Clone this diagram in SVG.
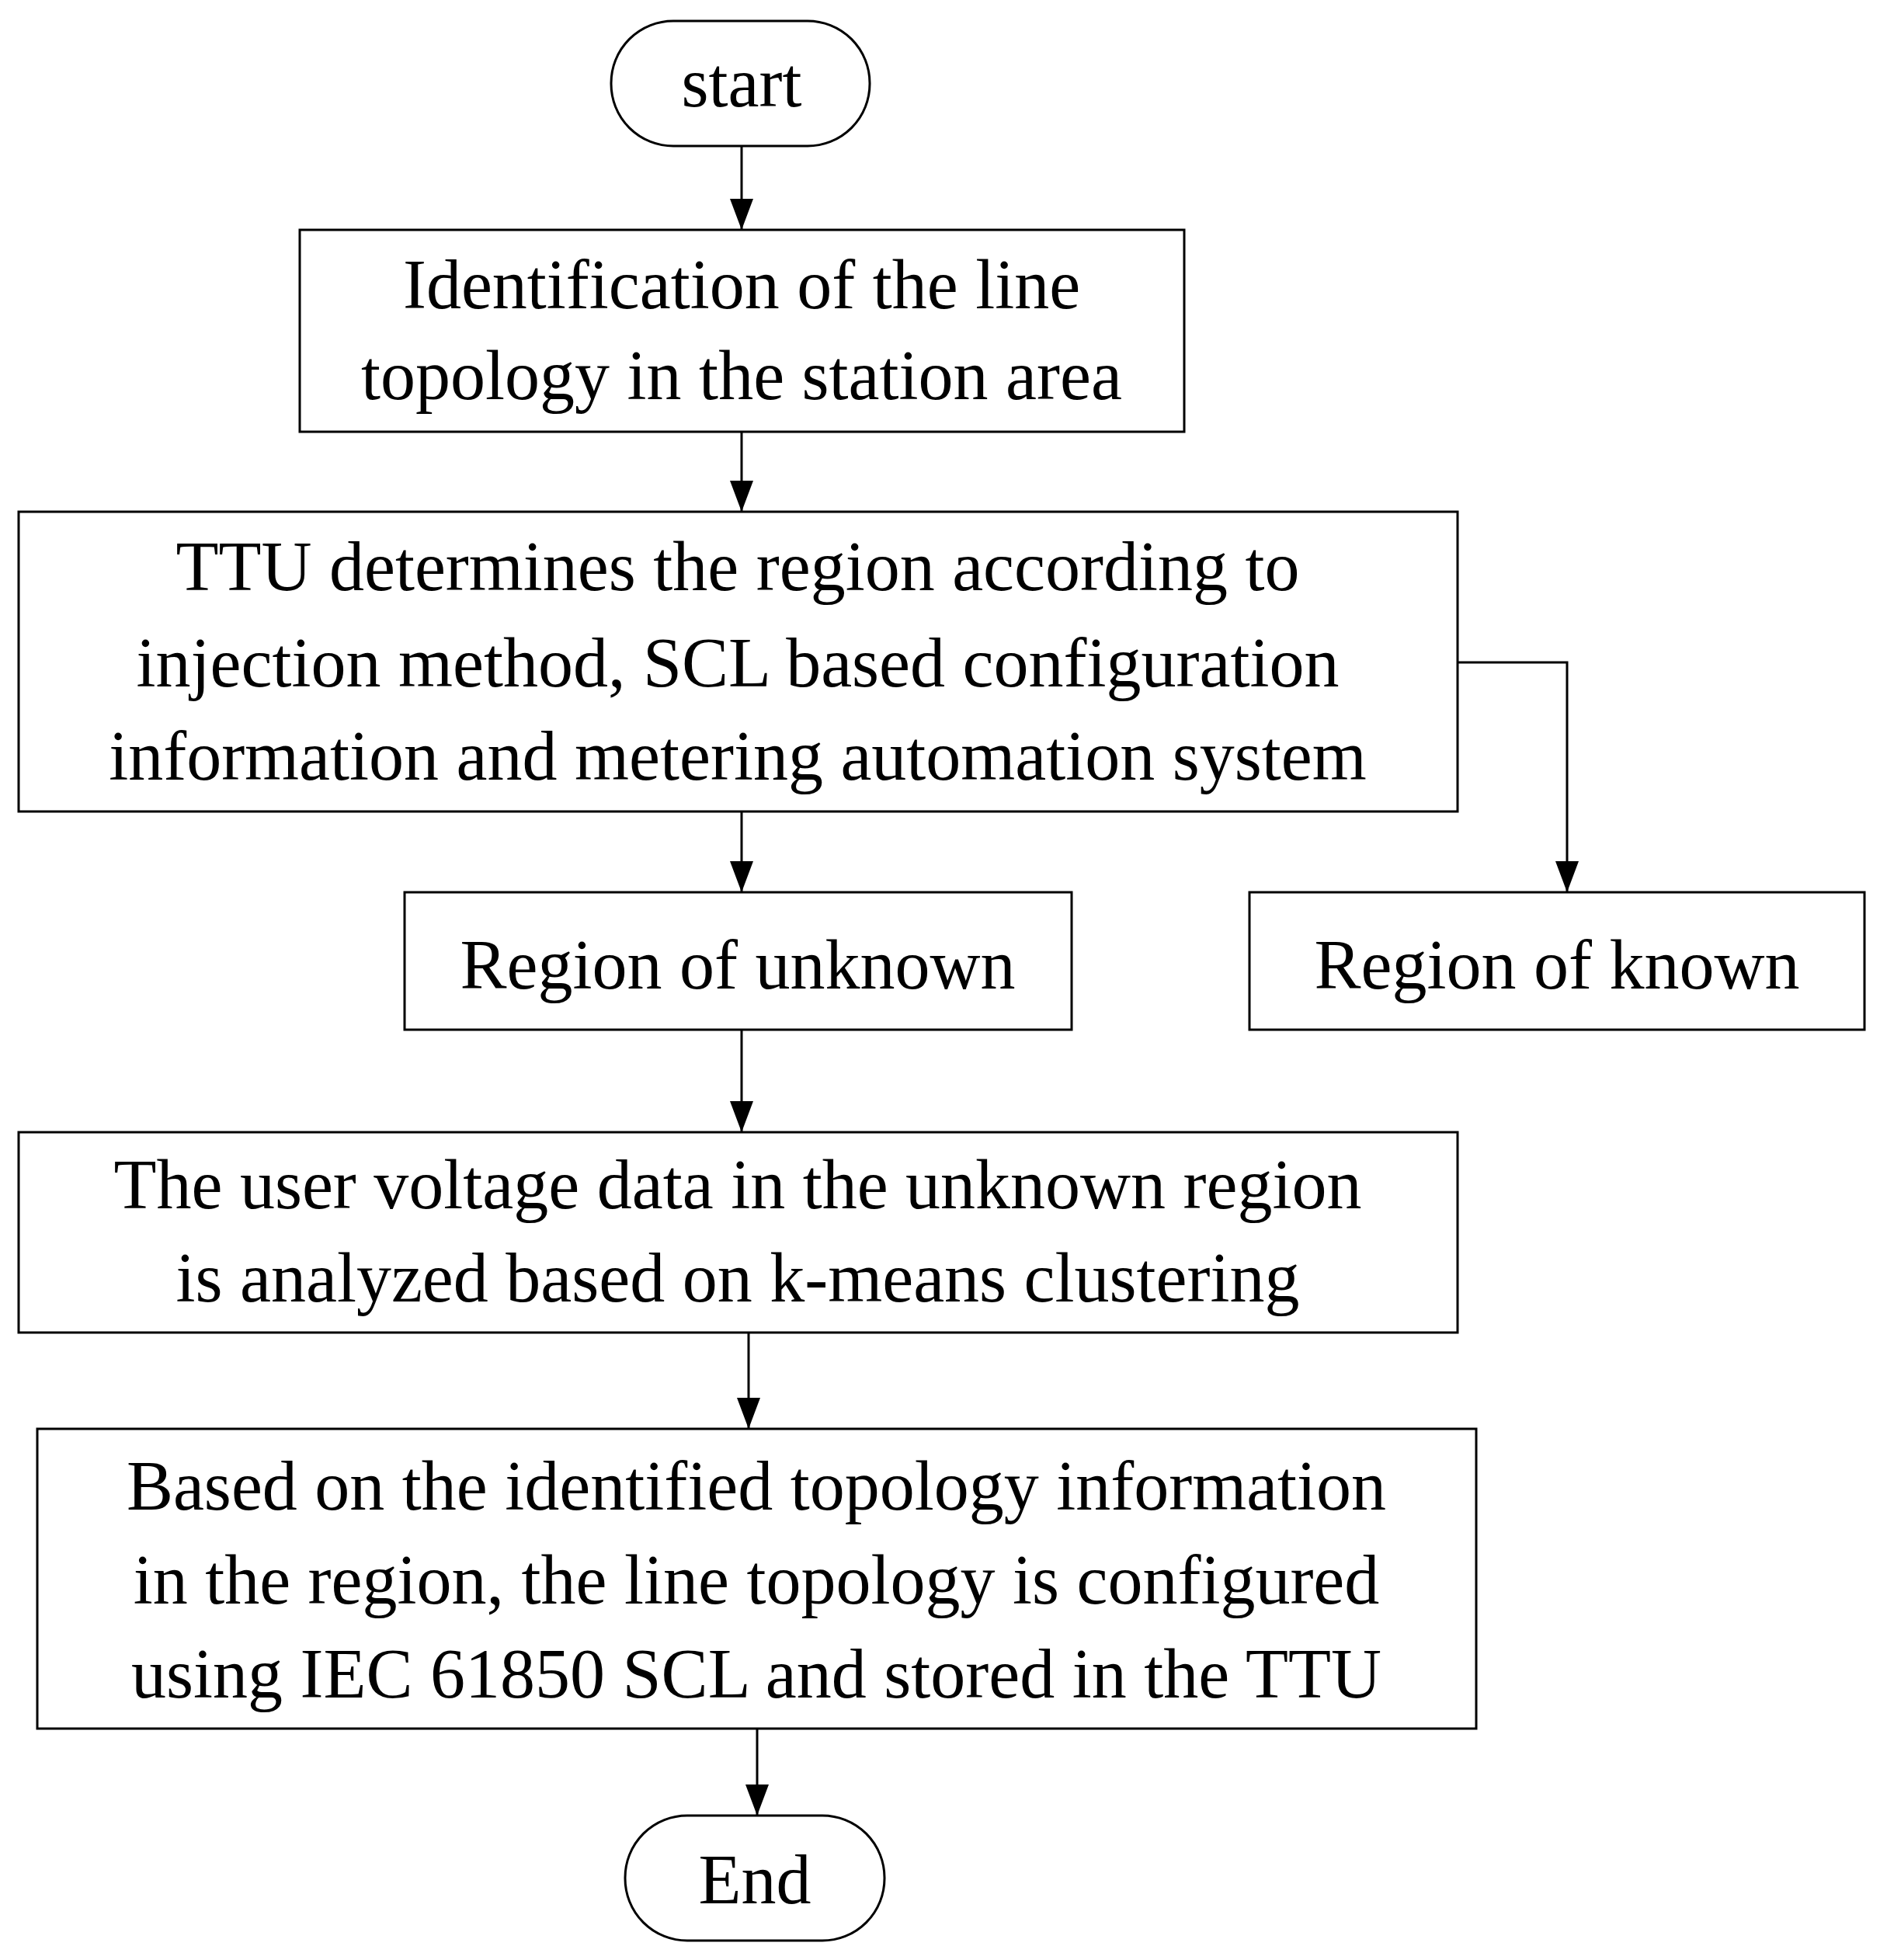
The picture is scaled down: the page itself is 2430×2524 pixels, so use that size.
<svg xmlns="http://www.w3.org/2000/svg" width="2430" height="2524" viewBox="0 0 2430 2524">
<defs>
<marker id="ah" viewBox="0 0 10 10" refX="10" refY="5" markerWidth="10" markerHeight="14" markerUnits="userSpaceOnUse" orient="auto"><path d="M0,0 L10,5 L0,10 Z" fill="#000"/></marker>
<marker id="a" viewBox="0 0 40 30" refX="40" refY="15" markerWidth="40" markerHeight="30" markerUnits="userSpaceOnUse" orient="auto"><path d="M0,0 L40,15 L0,30 Z" fill="#000"/></marker>
</defs>
<style>
rect{fill:#fff;stroke:#000;stroke-width:3}
text{font-family:"Liberation Serif","Times New Roman",serif;font-size:90px;text-anchor:middle;fill:#000}
.c{fill:none;stroke:#000;stroke-width:3;marker-end:url(#a)}
</style>
<rect width="2430" height="2524" style="stroke:none"/>
<g id="start"><rect x="787" y="27" width="333" height="161" rx="80"/><text x="955" y="137">start</text></g>
<g id="n1"><rect x="386" y="296" width="1139" height="260"/><text x="955" y="397">Identification of the line</text><text x="955" y="514">topology in the station area</text></g>
<g id="n2"><rect x="24" y="659" width="1853" height="386"/><text x="950" y="760">TTU determines the region according to</text><text x="950" y="884">injection method, SCL based configuration</text><text x="950" y="1004">information and metering automation system</text></g>
<g id="unknown"><rect x="521" y="1149" width="859" height="177"/><text x="950" y="1273">Region of unknown</text></g>
<g id="known"><rect x="1609" y="1149" width="792" height="177"/><text x="2005" y="1273">Region of known</text></g>
<g id="n3"><rect x="24" y="1458" width="1853" height="258"/><text x="950" y="1556">The user voltage data in the unknown region</text><text x="950" y="1676">is analyzed based on k-means clustering</text></g>
<g id="n4"><rect x="48" y="1840" width="1853" height="386"/><text x="974" y="1944">Based on the identified topology information</text><text x="974" y="2065">in the region, the line topology is configured</text><text x="974" y="2186">using IEC 61850 SCL and stored in the TTU</text></g>
<g id="end"><rect x="805" y="2338" width="334" height="161" rx="80"/><text x="972" y="2451">End</text></g>
<g id="connectors">
<path class="c" d="M955,188 V296"/>
<path class="c" d="M955,556 V659"/>
<path class="c" d="M955,1045 V1149"/>
<path class="c" d="M1877,853 H2018 V1149"/>
<path class="c" d="M955,1326 V1458"/>
<path class="c" d="M964,1716 V1840"/>
<path class="c" d="M975,2226 V2338"/>
</g>
</svg>
